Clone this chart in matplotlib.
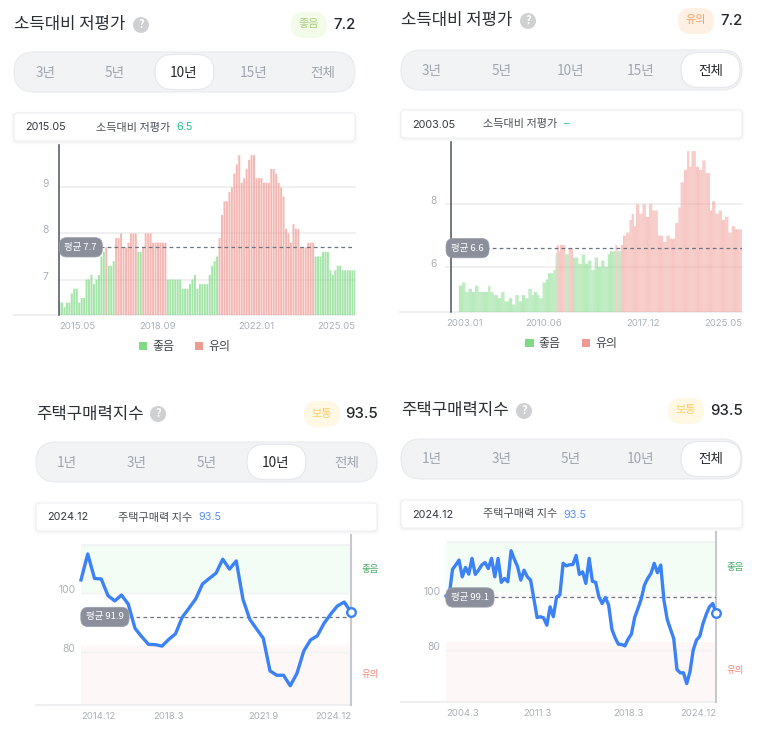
import matplotlib
matplotlib.use("Agg")
import matplotlib.pyplot as plt
from matplotlib.patches import FancyBboxPatch, Circle, Patch
from matplotlib.transforms import blended_transform_factory, ScaledTranslation
import numpy as np

plt.rcParams['font.family'] = ['Noto Sans CJK KR', 'DejaVu Sans']

W, H = 774, 746

# monthly ratio, 2015.05 - 2025.05
ratio_10y = [
    6.5, 6.5, 6.4, 6.5, 6.5, 6.7, 6.8, 6.8, 6.5, 6.6, 6.6, 7.0, 7.0, 7.1, 6.9, 7.0,
    7.1, 7.5, 7.6, 7.7, 7.3, 7.3, 7.4, 7.9, 7.9, 8.0, 7.7, 7.7, 7.8, 8.0, 8.0, 8.0,
    7.6, 7.6, 7.7, 8.0, 8.0, 8.0, 7.8, 7.8, 7.8, 7.8, 7.8, 7.8, 7.0, 7.0, 7.0, 7.0,
    7.0, 7.0, 6.8, 6.8, 6.8, 6.9, 7.0, 7.1, 6.8, 6.9, 6.9, 6.9, 6.9, 7.1, 7.3, 7.4,
    7.5, 7.9, 8.4, 8.7, 8.7, 8.9, 9.0, 9.3, 9.5, 9.7, 9.1, 9.2, 9.4, 9.6, 9.7, 9.7,
    9.2, 9.2, 9.2, 9.1, 9.1, 9.1, 9.4, 9.4, 9.3, 9.1, 9.0, 8.8, 8.1, 8.0, 7.8, 8.2,
    8.1, 8.1, 7.7, 7.7, 7.7, 7.8, 7.8, 7.8, 7.5, 7.5, 7.5, 7.6, 7.6, 7.6, 7.2, 7.1,
    7.2, 7.3, 7.3, 7.2, 7.2, 7.2, 7.2, 7.2, 7.2,
]
ticks_10y = [0, 40, 80, 120]
labels_10y = ["2015.05", "2018.09", "2022.01", "2025.05"]

# monthly ratio, 2003.01 - 2025.05 (first months have no value)
ratio_all = [
    np.nan, np.nan, np.nan, np.nan, np.nan, np.nan, np.nan, np.nan,
    5.4, 5.4, 5.4, 5.5, 5.5, 5.5, 5.2, 5.2, 5.2, 5.3, 5.3, 5.3, 5.2, 5.2, 5.2,
    5.4, 5.4, 5.4, 5.2, 5.2, 5.2, 5.2, 5.2, 5.2, 5.2, 5.2, 5.2, 5.4, 5.4,
    5.2, 5.2, 5.2, 5.1, 5.1, 5.1, 5.1, 5.0, 5.0, 5.0, 5.2, 5.2, 5.2,
    4.9, 4.9, 4.9, 4.9, 5.0, 5.0, 5.0, 4.8, 4.8, 4.8, 5.1, 5.1, 5.1,
    4.9, 4.9, 4.9, 5.1, 5.1, 5.1, 5.0, 5.0, 5.0, 5.3, 5.3, 5.3, 5.1, 5.1,
    5.2, 5.2, 5.2, 5.1, 5.1, 5.0, 5.0, 5.0, 5.5, 5.5, 5.5, 5.6, 5.6,
    5.8, 5.8, 5.8, 5.8, 5.8, 5.9, 5.9, 6.4, 6.7, 6.7, 6.5,
    6.7, 6.7, 6.7, 6.7, 6.7, 6.4, 6.4, 6.4, 6.6, 6.6, 6.6, 6.6,
    6.3, 6.3, 6.3, 6.3, 6.3, 6.1, 6.1, 6.1, 6.4, 6.4, 6.4, 6.1, 6.1, 6.1,
    6.2, 6.2, 6.2, 5.9, 5.9, 5.9, 6.3, 6.3, 6.3, 6.0, 6.0, 6.0, 6.2, 6.2, 6.2,
    6.0, 6.0, 6.0, 6.4, 6.4, 6.5, 6.5, 6.5, 6.5, 6.5, 6.7, 6.7, 6.5, 6.5, 6.5,
    6.7, 6.7, 7.0, 7.0, 7.0, 7.1, 7.1, 7.1, 7.5, 7.5, 7.7, 7.7, 7.3, 7.3,
    8.0, 8.0, 8.0, 7.7, 7.7, 7.7, 8.0, 8.0, 8.0, 7.6, 7.6, 7.6, 8.0, 8.0, 8.0,
    7.8, 7.8, 7.8, 7.8, 7.8, 7.0, 7.0, 7.0, 7.0, 7.0, 6.8, 6.8, 6.8, 7.0, 7.0, 7.0,
    6.9, 6.9, 6.9, 6.9, 6.9, 7.4, 7.4, 7.4, 7.9, 7.9, 8.7, 8.7, 8.7, 9.1, 9.1, 9.1,
    9.7, 9.7, 9.2, 9.2, 9.7, 9.7, 9.7, 9.7, 9.2, 9.2, 9.2, 9.1, 9.1, 9.1,
    9.4, 9.4, 9.4, 9.0, 9.0, 9.0, 9.0, 7.8, 7.8, 8.1, 8.1, 8.1, 7.7, 7.7, 7.7,
    7.8, 7.8, 7.8, 7.5, 7.5, 7.5, 7.6, 7.6, 7.6, 7.1, 7.1, 7.1, 7.3, 7.3, 7.3,
    7.2, 7.2, 7.2, 7.2, 7.2, 7.2, 7.2,
]
ticks_all = [0, 86, 177, 268]
labels_all = ["2003.01", "2010.06", "2017.12", "2025.05"]

# quarterly index, 2014.12 - 2024.12
index_10y = [
    104.6, 113.5, 105.1, 104.9, 99.2, 97.4, 99.4, 96.3, 88.0, 85.1, 82.5, 82.4, 81.9,
    84.2, 86.1, 91.8, 94.9, 98.1, 103.2, 105.1, 106.9, 111.7, 108.3, 111.1, 97.9,
    91.1, 87.8, 84.6, 73.4, 71.9, 71.9, 68.3, 72.6, 80.2, 84.0, 85.4, 89.7, 92.9,
    95.7, 97.0, 93.5,
]
index_ticks_10y = [0, 13, 27, 40]
index_labels_10y = ["2014.12", "2018.3", "2021.9", "2024.12"]

# quarterly index, 2004.3 - 2024.12
index_all = [
    99.6, 100.0, 109.3, 110.9, 112.7, 106.6, 110.0, 107.6, 113.3, 107.5, 109.0, 110.9,
    111.8, 109.6, 113.3, 106.6, 113.3, 104.6, 106.0, 104.8, 116.1, 113.0, 110.3, 105.4,
    109.0, 106.6, 105.4, 98.7, 91.8, 92.1, 91.7, 89.0, 95.7, 92.1, 99.3, 100.0, 111.5,
    110.6, 111.0, 111.1, 114.4, 107.5, 108.4, 104.2, 113.3, 105.0, 104.6, 99.3, 96.9,
    99.1, 96.3, 87.5, 84.4, 82.1, 82.0, 81.5, 84.0, 85.8, 91.8, 95.1, 98.5, 103.6,
    106.0, 107.8, 111.5, 108.1, 110.9, 98.1, 91.1, 87.6, 84.2, 72.9, 71.7, 71.7, 67.8,
    72.1, 80.0, 83.6, 85.0, 89.6, 93.0, 95.7, 96.9, 93.5,
]
index_ticks_all = [0, 28, 56, 83]
index_labels_all = ["2004.3", "2011.3", "2018.3", "2024.12"]

GREEN = "#7fd985"
RED = "#f09a94"
BLUE = "#3b82f6"
TICK_GREY = "#aab0b9"

fig = plt.figure(figsize=(W / 100, H / 100), dpi=100)
fig.patch.set_facecolor("white")

# page layer in pixel coordinates for the cards around the charts
page = fig.add_axes([0, 0, 1, 1], zorder=0)
page.set_xlim(0, W)
page.set_ylim(H, 0)
page.axis("off")


def round_box(x0, y0, x1, y1, radius, fc, ec="none", lw=0, zorder=1, alpha=None):
    box = FancyBboxPatch((x0, y0), x1 - x0, y1 - y0,
                         boxstyle=f"round,pad=0,rounding_size={radius}",
                         fc=fc, ec=ec, lw=lw, zorder=zorder, alpha=alpha)
    page.add_patch(box)


def draw_header(x0, x1, y, title, help_x, pill_x, pill_text, pill_fc, pill_color, value):
    page.text(x0, y, title, fontsize=12, color="#2b2f36", va="center", ha="left")
    page.add_patch(Circle((help_x, y), 8, fc="#cfd0d2", ec="none"))
    page.text(help_x, y - 0.5, "?", fontsize=8, color="white", fontweight="bold", ha="center", va="center")
    round_box(pill_x, y - 13, pill_x + 36, y + 13, 13, pill_fc)
    page.text(pill_x + 18, y - 0.5, pill_text, fontsize=8, color=pill_color, ha="center", va="center")
    page.text(x1 + 0.5, y, value, fontsize=10.8, color="#23262b", ha="right", va="center", family="Inter", fontweight="medium")


def draw_tabs(x0, x1, y0, y1, tabs, centers, selected, sel_x0, sel_x1):
    round_box(x0, y0, x1, y1, (y1 - y0) / 2, "#f1f3f5", ec="#e8eaed", lw=0.8)
    round_box(sel_x0, y0 + 2.5, sel_x1, y1 - 2.5, (y1 - y0 - 5) / 2, "white", ec="#e6e7ea", lw=0.8, zorder=2)
    for tab, cx in zip(tabs, centers):
        color = "#25282d" if tab == selected else "#a0a6ae"
        page.text(cx, (y0 + y1) / 2 + 0.5, tab, fontsize=9.8, color=color, ha="center", va="center", zorder=3)


def draw_tooltip(x0, x1, y0, date, name, name_x, value, value_x, value_color):
    y1 = y0 + 28
    for grow, alpha in [(3, 0.008), (2, 0.012), (1, 0.018)]:
        round_box(x0 - grow, y0 - grow + 1, x1 + grow, y1 + grow + 1, 5, "black", alpha=alpha)
    round_box(x0, y0, x1, y1, 4, "white", ec="#eceef0", lw=0.7, zorder=2)
    ym = y0 + 14.5
    page.text(x0 + 11, ym, date, fontsize=7.8, color="#33373d", va="center", family="Inter", zorder=3)
    page.text(name_x, ym, name, fontsize=8, color="#4a4e55", va="center", zorder=3)
    page.text(value_x, ym, value, fontsize=7.8, color=value_color, va="center", family="Inter", zorder=3)


def chart_axes(left, right, top, bottom, base_left, ylim, xlim, yticks):
    ax = fig.add_axes([left / W, 1 - bottom / H, (right - left) / W, (bottom - top) / H], zorder=2)
    ax.patch.set_alpha(0)
    ax.set_xlim(*xlim)
    ax.set_ylim(*ylim)
    for spine in ax.spines.values():
        spine.set_visible(False)
    ax.set_yticks(yticks)
    ax.set_yticklabels([str(t) for t in yticks], fontsize=7.4, color=TICK_GREY, family="Inter", va="baseline")
    ax.tick_params(length=0)
    # baseline runs out to the card edge
    start = (base_left - left) / (right - left)
    ax.plot([start, 1.0], [0, 0], transform=ax.transAxes, color="#eceef0", lw=1.3, clip_on=False, zorder=1)
    return ax


def set_xlabels(ax, ticks, labels, pad, first_shift=0):
    ax.set_xticks(ticks)
    ax.set_xticklabels(labels, fontsize=6.9, color=TICK_GREY, family="Inter")
    ax.tick_params(axis="x", pad=pad)
    tl = ax.get_xticklabels()
    tl[0].set_ha("left")
    tl[-1].set_ha("right")
    if first_shift:
        tl[0].set_transform(tl[0].get_transform() + ScaledTranslation(first_shift / 100, 0, fig.dpi_scale_trans))


def avg_line(ax, avg, text, shift):
    ax.axhline(avg, color="#6c7382", lw=0.9, dashes=(3, 2.5), zorder=4)
    trans = blended_transform_factory(ax.transAxes, ax.transData)
    ax.annotate(text, xy=(0, avg), xycoords=trans, xytext=(shift, 0), textcoords="offset pixels",
                fontsize=6.8, color="white", ha="left", va="center", fontweight="medium", zorder=6,
                bbox=dict(boxstyle="round,pad=0.55,rounding_size=0.8", fc="#8a8f9b", ec="#9aa0aa", lw=0.5))


def bar_chart(ax, values, avg, width, alpha, legend_x, grid_left):
    values = np.array(values, dtype=float)
    x = np.arange(len(values))
    colors = [RED if v >= avg else GREEN for v in values]
    bars = ax.bar(x, values - ax.get_ylim()[0], bottom=ax.get_ylim()[0], width=width, color=colors,
                  alpha=alpha, lw=0, zorder=2)
    for b in bars:
        b.set_snap(False)
    trans = ax.get_yaxis_transform()
    for t in ax.get_yticks():
        ax.plot([grid_left, 1], [t, t], transform=trans, color="#ececee", lw=1.1, clip_on=False, zorder=1)
    ax.plot([0, 0], [0, 1], transform=ax.transAxes, color="#4b5260", lw=1.1, clip_on=False, zorder=5)
    handles = [Patch(fc=GREEN, label="좋음"), Patch(fc=RED, label="유의")]
    ax.legend(handles=handles, ncol=2, frameon=False, loc="center", bbox_to_anchor=(legend_x, -0.185),
              fontsize=8.6, labelcolor="#40444b", handlelength=0.7, handleheight=0.7,
              handletextpad=0.42, columnspacing=1.75, borderpad=0)


def line_chart(ax, values, good_low, good_high, bad_high, good_y, bad_y, grid_right):
    x = np.arange(len(values))
    ax.axhspan(good_low, good_high, color="#f3fdf5", lw=0, zorder=0)
    ax.axhspan(ax.get_ylim()[0], bad_high, color="#fdf7f7", lw=0, zorder=0)
    ax.axhline(good_high, color="#f0f1f2", lw=1.1, zorder=1)
    for t in ax.get_yticks():
        ax.plot([0, grid_right], [t, t], transform=ax.get_yaxis_transform(), color="#f3f3f4", lw=1.0, zorder=1)
    ax.plot([1, 1], [0, 1], transform=ax.transAxes, color="#c9c9cd", lw=1.5, clip_on=False, zorder=2)
    ax.plot(x, values, color=BLUE, lw=2.4, solid_joinstyle="round", clip_on=False, zorder=5)
    ax.plot(x[-1], values[-1], "o", ms=6.2, mfc="white", mec=BLUE, mew=1.7, clip_on=False, zorder=7)
    trans = ax.get_yaxis_transform()
    ax.text(1.04, good_y, "좋음", transform=trans, fontsize=6.8, color="#4fae6a", va="center")
    ax.text(1.04, bad_y, "유의", transform=trans, fontsize=6.8, color="#ee8a7c", va="center")


# top left card
draw_header(14, 355, 25, "소득대비 저평가", 141, 291, "좋음", "#f3fbe9", "#a9d27c", "7.2")
draw_tabs(14, 355, 52, 92, ["3년", "5년", "10년", "15년", "전체"], [46, 115, 184, 254, 323], "10년", 155, 214)
draw_tooltip(14, 355, 113, "2015.05", "소득대비 저평가", 96, "6.5", 176, "#23c28f")
ax1 = chart_axes(59.5, 355, 145, 315, 14, (6.23, 9.92), (0, 120), [7, 8, 9])
ax1.tick_params(axis="y", pad=8)
bar_chart(ax1, ratio_10y, 7.7, 0.8, 0.7, 0.423, 0)
avg_line(ax1, 7.7, "평균 7.7", 5)
set_xlabels(ax1, ticks_10y, labels_10y, 5)

# top right card
draw_header(401, 742, 21, "소득대비 저평가", 528, 678, "유의", "#fff0e4", "#f4a462", "7.2")
draw_tabs(401, 742, 50, 90, ["3년", "5년", "10년", "15년", "전체"], [432, 502, 571, 641, 711], "전체", 681, 740)
draw_tooltip(401, 742, 110, "2003.05", "소득대비 저평가", 483, "–", 564, "#23c28f")
ax2 = chart_axes(450.7, 742, 142, 312, 400, (4.56, 9.99), (0, 268), [6, 8])
ax2.tick_params(axis="y", pad=10)
bar_chart(ax2, ratio_all, 6.6, 1.0, 0.55, 0.414, -0.017)
avg_line(ax2, 6.6, "평균 6.6", 0.5)
set_xlabels(ax2, ticks_all, labels_all, 5, first_shift=-4)

# bottom left card
draw_header(36, 377, 414, "주택구매력지수", 158, 304, "보통", "#fff8e5", "#fbcf6e", "93.5")
draw_tabs(36, 377, 442, 482, ["1년", "3년", "5년", "10년", "전체"], [67, 137, 207, 276, 347], "10년", 247, 306)
draw_tooltip(36, 377, 503, "2024.12", "주택구매력 지수", 118, "93.5", 198, "#5b8def")
ax3 = chart_axes(81, 351, 535, 705, 36, (61.7, 120), (0, 40), [80, 100])
ax3.tick_params(axis="y", pad=4)
line_chart(ax3, index_10y, 100, 116.6, 82.3, 108, 72, 0.985)
avg_line(ax3, 91.9, "평균 91.9", 5)
set_xlabels(ax3, index_ticks_10y, index_labels_10y, 5)

# bottom right card
draw_header(401, 742, 411, "주택구매력지수", 524, 668, "보통", "#fff8e5", "#fbcf6e", "93.5")
draw_tabs(401, 742, 439, 479, ["1년", "3년", "5년", "10년", "전체"], [432, 502, 571, 641, 711], "전체", 681, 741)
draw_tooltip(401, 742, 500, "2024.12", "주택구매력 지수", 483, "93.5", 563, "#5b8def")
ax4 = chart_axes(446, 716, 532, 701.7, 401, (61.2, 122.9), (0, 83), [80, 100])
ax4.tick_params(axis="y", pad=4)
line_chart(ax4, index_all, 101, 119.3, 83, 110, 72.5, 0.985)
avg_line(ax4, 99.1, "평균 99.1", 5)
set_xlabels(ax4, index_ticks_all, index_labels_all, 5)

fig.savefig("out.png", dpi=100)
